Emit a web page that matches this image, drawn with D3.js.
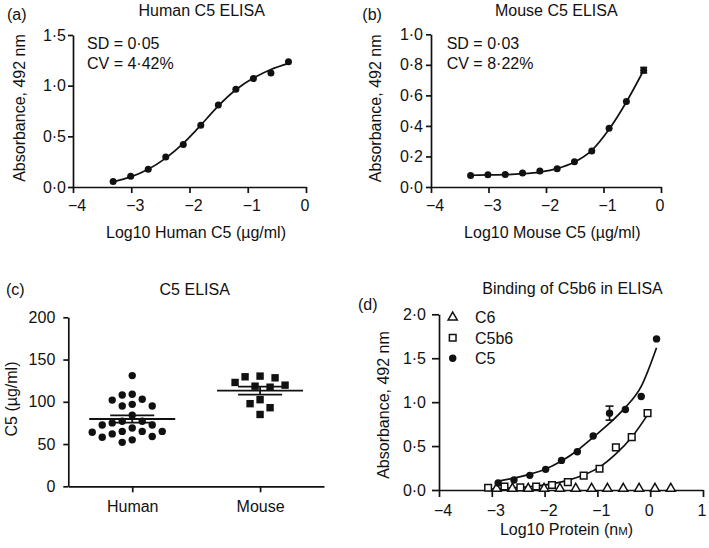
<!DOCTYPE html>
<html><head><meta charset="utf-8">
<script src="https://cdn.jsdelivr.net/npm/d3@7"></script>
<style>
body{margin:0;background:#fff}
svg{display:block;background:#fff}
</style>
</head><body>
<svg id="c" width="709" height="548"></svg>
<script>
// ---------- DATA ----------
// (a) Human C5 ELISA
const doseA = [-3.311, -3.010, -2.709, -2.408, -2.107, -1.806, -1.505, -1.204, -0.903, -0.602, -0.301];
const humanAbs = [0.055, 0.105, 0.175, 0.295, 0.42, 0.61, 0.81, 0.965, 1.07, 1.125, 1.235];
const humanFit = [0.05, 0.10, 0.175, 0.285, 0.43, 0.61, 0.80, 0.96, 1.075, 1.16, 1.22];
// (b) Mouse C5 ELISA
const doseB = [-3.311, -3.010, -2.709, -2.408, -2.107, -1.806, -1.505, -1.204, -0.903, -0.602, -0.301];
const mouseAbs = [0.075, 0.08, 0.082, 0.092, 0.104, 0.12, 0.165, 0.235, 0.385, 0.56, 0.765];
const mouseErr = [0, 0, 0, 0, 0, 0, 0, 0, 0, 0, 0.018];
const mouseFit = [0.077, 0.079, 0.081, 0.087, 0.098, 0.12, 0.163, 0.24, 0.378, 0.557, 0.765];
// (c) C5 serum levels (µg/ml)
const groups = ["Human", "Mouse"];
const humanC5 = [131, 102, 108, 109, 103, 95, 95, 97, 84, 72.5, 72.5, 77, 77, 75, 65, 62, 65, 58, 64, 52, 65, 55, 69, 59];
const mouseC5 = [128.4, 130.4, 129.6, 119.7, 117.3, 118.5, 122.9, 102.5, 97.8, 93, 85];
// (d) Binding of C5b6
const doseC6 = [-2.91, -2.61, -2.31, -2.01, -1.71, -1.41, -1.11, -0.81, -0.51, -0.21, 0.09, 0.39];
const absC6 = [0.005, 0.005, 0.005, 0.005, 0.005, 0.005, 0.005, 0.005, 0.005, 0.005, 0.005, 0.005];
const doseC5b6 = [-3.07, -2.76, -2.46, -2.16, -1.86, -1.56, -1.26, -0.96, -0.65, -0.35, -0.05];
const absC5b6 = [0.025, 0.04, 0.03, 0.04, 0.057, 0.09, 0.163, 0.242, 0.485, 0.602, 0.875];
const fitC5b6 = [0.01, 0.02, 0.03, 0.045, 0.07, 0.11, 0.17, 0.26, 0.41, 0.60, 0.855];
const doseC5 = [-2.88, -2.58, -2.28, -1.98, -1.68, -1.38, -1.08, -0.77, -0.47, -0.17, 0.12];
const absC5 = [0.08, 0.114, 0.167, 0.235, 0.337, 0.436, 0.614, 0.875, 0.917, 1.065, 1.72];
const errC5 = [0, 0, 0, 0, 0, 0, 0, 0.08, 0, 0, 0];
const fitC5 = [0.10, 0.135, 0.18, 0.24, 0.33, 0.45, 0.60, 0.76, 0.94, 1.18, 1.62];
const legendLabels = ["C6", "C5b6", "C5"];

// ---------- HELPERS ----------
const FONT = '"Liberation Sans", Arial, Helvetica, sans-serif';
const INK = "#111";
const svg = d3.select("#c");
svg.append("rect").attr("width", 709).attr("height", 548).attr("fill", "#fff");
const dec = v => d3.format(".1f")(v).replace(".", "\u00B7");
const intf = d3.format("d");

function styleAxis(g) {
  g.attr("font-family", FONT).attr("font-size", 16);
  g.selectAll("path,line").attr("stroke", INK).attr("stroke-width", 1.7);
  g.selectAll("text").attr("fill", INK);
}
function shiftX(g) {
  g.selectAll(".tick text").attr("dx", d => d < 0 ? 3.5 : -1.5);
}
function text(x, y, s, opts = {}) {
  return svg.append("text").attr("x", x).attr("y", y).text(s)
    .attr("font-family", FONT).attr("font-size", opts.size || 16).attr("fill", INK)
    .attr("text-anchor", opts.anchor || "start");
}
function vtext(x, y, s) {
  return svg.append("text").attr("transform", `translate(${x},${y}) rotate(-90)`)
    .attr("text-anchor", "middle").attr("font-family", FONT).attr("font-size", 16)
    .attr("fill", INK).text(s);
}
function zip(a, b) { return a.map((d, i) => [d, b[i]]); }

// ---------- PANEL A ----------
{
  const x = d3.scaleLinear([-4, 0], [73, 306]);
  const y = d3.scaleLinear([0, 1.5], [187, 35]);
  svg.append("g").attr("transform", "translate(0,187)")
    .call(d3.axisBottom(x).tickValues([-4, -3, -2, -1, 0]).tickFormat(intf).tickSize(6).tickPadding(7).tickSizeOuter(0)).call(styleAxis).call(shiftX);
  svg.append("g").attr("transform", "translate(73,0)")
    .call(d3.axisLeft(y).tickValues([0, 0.5, 1, 1.5]).tickFormat(dec).tickSize(5).tickPadding(2).tickSizeOuter(0)).call(styleAxis);
  svg.append("path").datum(zip(doseA, humanFit))
    .attr("d", d3.line().x(d => x(d[0])).y(d => y(d[1])).curve(d3.curveNatural))
    .attr("fill", "none").attr("stroke", INK).attr("stroke-width", 1.7);
  svg.append("g").selectAll("circle").data(zip(doseA, humanAbs)).join("circle")
    .attr("cx", d => x(d[0])).attr("cy", d => y(d[1])).attr("r", 3.5).attr("fill", INK);
  text(7, 19.5, "(a)");
  text(201.7, 16, "Human C5 ELISA", {anchor: "middle"});
  text(87, 48.5, "SD = 0\u00B705");
  text(87, 68.5, "CV = 4\u00B742%");
  vtext(25, 108, "Absorbance, 492 nm");
  text(196, 238, "Log10 Human C5 (\u00B5g/ml)", {anchor: "middle"});
}

// ---------- PANEL B ----------
{
  const x = d3.scaleLinear([-4, 0], [431, 661]);
  const y = d3.scaleLinear([0, 1], [187, 34.3]);
  svg.append("g").attr("transform", "translate(0,187)")
    .call(d3.axisBottom(x).tickValues([-4, -3, -2, -1, 0]).tickFormat(intf).tickSize(6).tickPadding(7).tickSizeOuter(0)).call(styleAxis).call(shiftX);
  svg.append("g").attr("transform", "translate(431,0)")
    .call(d3.axisLeft(y).tickValues([0, 0.2, 0.4, 0.6, 0.8, 1.0]).tickFormat(dec).tickSize(5).tickPadding(3).tickSizeOuter(0)).call(styleAxis);
  svg.append("path").datum(zip(doseB, mouseFit))
    .attr("d", d3.line().x(d => x(d[0])).y(d => y(d[1])).curve(d3.curveMonotoneX))
    .attr("fill", "none").attr("stroke", INK).attr("stroke-width", 1.7);
  const eb = svg.append("g").attr("stroke", INK).attr("stroke-width", 1.6);
  doseB.forEach((d, i) => {
    if (!mouseErr[i]) return;
    const cx = x(d), y1 = y(mouseAbs[i] - mouseErr[i]), y2 = y(mouseAbs[i] + mouseErr[i]);
    eb.append("line").attr("x1", cx).attr("x2", cx).attr("y1", y1).attr("y2", y2);
    eb.append("line").attr("x1", cx - 3.5).attr("x2", cx + 3.5).attr("y1", y1).attr("y2", y1);
    eb.append("line").attr("x1", cx - 3.5).attr("x2", cx + 3.5).attr("y1", y2).attr("y2", y2);
  });
  svg.append("g").selectAll("circle").data(zip(doseB, mouseAbs)).join("circle")
    .attr("cx", d => x(d[0])).attr("cy", d => y(d[1])).attr("r", 3.5).attr("fill", INK);
  text(362.3, 19.5, "(b)");
  text(556.3, 16, "Mouse C5 ELISA", {anchor: "middle"});
  text(446.7, 48.5, "SD = 0\u00B703");
  text(446.7, 68.5, "CV = 8\u00B722%");
  vtext(380.5, 108.3, "Absorbance, 492 nm");
  text(552.3, 238, "Log10 Mouse C5 (\u00B5g/ml)", {anchor: "middle"});
}

// ---------- PANEL C ----------
{
  const x = d3.scalePoint(groups, [68.3, 324]).padding(0.5);
  const y = d3.scaleLinear([0, 200], [486.3, 317.3]);
  svg.append("g").attr("transform", "translate(0,486.3)")
    .call(d3.axisBottom(x).tickSize(6).tickPadding(8).tickSizeOuter(0)).call(styleAxis);
  svg.append("g").attr("transform", "translate(68.3,0)")
    .call(d3.axisLeft(y).tickValues([0, 50, 100, 150, 200]).tickSize(5).tickPadding(8).tickSizeOuter(0)).call(styleAxis);

  // simple beeswarm placement (collision avoidance)
  function swarm(vals, cx, minD) {
    const pts = vals.map(v => ({v, y: y(v)})).sort((a, b) => a.y - b.y);
    const placed = [];
    const offs = [0];
    for (let k = 1; k < 12; k++) offs.push(-5 * k, 5 * k);
    pts.forEach(p => {
      for (const o of offs) {
        const ok = placed.every(q => Math.hypot(q.x - (cx + o), q.y - p.y) >= minD);
        if (ok) { p.x = cx + o; break; }
      }
      placed.push(p);
    });
    return placed;
  }
  const hp = swarm(humanC5, x("Human"), 10);
  svg.append("g").selectAll("circle").data(hp).join("circle")
    .attr("cx", d => d.x).attr("cy", d => d.y).attr("r", 3.7).attr("fill", INK);
  const mp = swarm(mouseC5, x("Mouse"), 10.5);
  svg.append("g").selectAll("rect").data(mp).join("rect")
    .attr("x", d => d.x - 3.7).attr("y", d => d.y - 3.7).attr("width", 7.4).attr("height", 7.4).attr("fill", INK);

  const stats = [humanC5, mouseC5].map(a => ({m: d3.mean(a), s: d3.deviation(a) / Math.sqrt(a.length)}));
  const sg = svg.append("g").attr("stroke", INK).attr("stroke-width", 1.8);
  groups.forEach((g, i) => {
    const cx = x(g), st = stats[i];
    sg.append("line").attr("x1", cx - 43).attr("x2", cx + 43).attr("y1", y(st.m)).attr("y2", y(st.m));
    sg.append("line").attr("x1", cx).attr("x2", cx).attr("y1", y(st.m - st.s)).attr("y2", y(st.m + st.s));
    [st.m - st.s, st.m + st.s].forEach(v =>
      sg.append("line").attr("x1", cx - 22).attr("x2", cx + 22).attr("y1", y(v)).attr("y2", y(v)));
  });
  text(6, 295, "(c)");
  text(194.7, 295, "C5 ELISA", {anchor: "middle"});
  vtext(16.5, 399, "C5 (\u00B5g/ml)");
}

// ---------- PANEL D ----------
{
  const x = d3.scaleLinear([-4, 1], [439, 703]);
  const y = d3.scaleLinear([0, 2], [490, 314.3]);
  svg.append("g").attr("transform", "translate(0,490)")
    .call(d3.axisBottom(x).tickValues([-4, -3, -2, -1, 0, 1]).tickFormat(intf).tickSize(7).tickPadding(8).tickSizeOuter(0)).call(styleAxis).call(shiftX);
  svg.append("g").attr("transform", "translate(439,0)")
    .call(d3.axisLeft(y).tickValues([0, 0.5, 1, 1.5, 2]).tickFormat(dec).tickSize(7).tickPadding(6).tickSizeOuter(0)).call(styleAxis);
  const line = d3.line().x(d => x(d[0])).y(d => y(d[1])).curve(d3.curveMonotoneX);
  svg.append("path").datum(zip(doseC5, fitC5)).attr("d", line)
    .attr("fill", "none").attr("stroke", INK).attr("stroke-width", 1.7);
  svg.append("path").datum(zip(doseC5b6, fitC5b6)).attr("d", line)
    .attr("fill", "none").attr("stroke", INK).attr("stroke-width", 1.7);

  const tri = d3.symbol(d3.symbolTriangle, 36);
  const sq = d3.symbol(d3.symbolSquare, 44);
  svg.append("g").selectAll("path").data(zip(doseC6, absC6)).join("path")
    .attr("transform", d => `translate(${x(d[0])},${y(d[1]) - 1})`).attr("d", tri)
    .attr("fill", "#fff").attr("stroke", INK).attr("stroke-width", 1.5);
  svg.append("g").selectAll("path").data(zip(doseC5b6, absC5b6)).join("path")
    .attr("transform", d => `translate(${x(d[0])},${y(d[1])})`).attr("d", sq)
    .attr("fill", "#fff").attr("stroke", INK).attr("stroke-width", 1.5);
  const eb = svg.append("g").attr("stroke", INK).attr("stroke-width", 1.6);
  doseC5.forEach((d, i) => {
    if (!errC5[i]) return;
    const cx = x(d), y1 = y(absC5[i] - errC5[i]), y2 = y(absC5[i] + errC5[i]);
    eb.append("line").attr("x1", cx).attr("x2", cx).attr("y1", y1).attr("y2", y2);
    eb.append("line").attr("x1", cx - 4).attr("x2", cx + 4).attr("y1", y1).attr("y2", y1);
    eb.append("line").attr("x1", cx - 4).attr("x2", cx + 4).attr("y1", y2).attr("y2", y2);
  });
  svg.append("g").selectAll("circle").data(zip(doseC5, absC5)).join("circle")
    .attr("cx", d => x(d[0])).attr("cy", d => y(d[1])).attr("r", 3.7).attr("fill", INK);

  // legend
  const ly = [317.3, 337.7, 358.3];
  const lg = svg.append("g");
  lg.append("path").attr("transform", `translate(452.7,${ly[0]})`).attr("d", tri)
    .attr("fill", "#fff").attr("stroke", INK).attr("stroke-width", 1.5);
  lg.append("path").attr("transform", `translate(452.7,${ly[1]})`).attr("d", sq)
    .attr("fill", "#fff").attr("stroke", INK).attr("stroke-width", 1.5);
  lg.append("circle").attr("cx", 452.7).attr("cy", ly[2]).attr("r", 3.7).attr("fill", INK);
  legendLabels.forEach((l, i) => text(475, ly[i] + 5.8, l));

  text(358, 310, "(d)");
  text(572.5, 294, "Binding of C5b6 in ELISA", {anchor: "middle"});
  vtext(389, 405, "Absorbance, 492 nm");
  const xl = text(566.5, 535, "Log10 Protein (n", {anchor: "middle"});
  xl.append("tspan").attr("font-size", 11.5).text("M");
  xl.append("tspan").text(")");
}
</script>
</body></html>
